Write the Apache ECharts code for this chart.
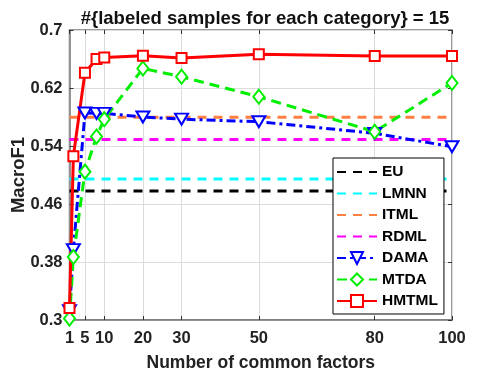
<!doctype html>
<html>
<head>
<meta charset="utf-8">
<title>MacroF1 vs common factors</title>
<script src="https://cdn.jsdelivr.net/npm/echarts@6/dist/echarts.min.js"></script>
<style>
    html, body { margin: 0; padding: 0; background: #fff; }
    #main { width: 499px; height: 380px; }
</style>
</head>
<body>
<div id="main"></div>
<script>
// data
var factors = [1, 2, 5, 8, 10, 20, 30, 50, 80, 100];
var xTicks = [1, 5, 10, 20, 30, 50, 80, 100];
var yTicks = [0.3, 0.38, 0.46, 0.54, 0.62, 0.7];

// baselines (constant over factors)
var euVal = 0.478;
var lmnnVal = 0.4945;
var itmlVal = 0.5796;
var rdmlVal = 0.549;

var dama  = [0.313, 0.397, 0.5855, 0.585, 0.585, 0.580, 0.577, 0.5735, 0.5575, 0.539];
var mtda  = [0.302, 0.387, 0.5046, 0.553, 0.577, 0.647, 0.6356, 0.608, 0.5597, 0.627];
var hmtml = [0.3166, 0.526, 0.641, 0.660, 0.662, 0.6645, 0.6614, 0.6665, 0.664, 0.664];

function pairs(ys) {
    return factors.map(function (x, i) { return [x, ys[i]]; });
}
function flat(v) {
    return [[factors[0], v], [factors[factors.length - 1], v]];
}

var FONT = 'Liberation Sans';
var AXC = '#7a7a7a';
var TXT = '#222';

var chart = echarts.init(document.getElementById('main'));

function baseline(name, v, color) {
    return {
        name: name,
        type: 'line',
        data: flat(v),
        symbol: 'none',
        lineStyle: { color: color, width: 3, type: [9, 7] },
        itemStyle: { color: color },
        silent: true
    };
}

// legend entries; baselines get no marker in the key
var names = ['EU', 'LMNN', 'ITML', 'RDML', 'DAMA', 'MTDA', 'HMTML'];
var legendData = names.map(function (n, i) {
    return i < 4 ? { name: n, itemStyle: { opacity: 0 } } : { name: n };
});

var option = {
    animation: false,
    backgroundColor: '#fff',
    title: {
        text: '#{labeled samples for each category} = 15',
        left: 260,
        top: 4,
        textAlign: 'center',
        textStyle: { fontFamily: FONT, fontSize: 18.5, fontWeight: 'bold', color: '#111' }
    },
    grid: {
        left: 69.5, right: 47, top: 30, bottom: 60,
        outerBoundsMode: 'none',
        containLabel: false,
        show: true, borderColor: AXC, borderWidth: 1.5, backgroundColor: '#fff'
    },
    legend: {
        orient: 'vertical',
        left: 333,
        top: 158,
        width: 107,
        padding: [6, 6, 5, 3],
        itemGap: 5.5,
        itemWidth: 40,
        itemHeight: 15,
        backgroundColor: '#fff',
        borderColor: '#000',
        borderWidth: 1,
        textStyle: { fontFamily: FONT, fontSize: 15.5, fontWeight: 'bold', color: '#000', padding: [0, 0, 0, 0] },
        data: legendData
    },
    xAxis: [{
        type: 'value',
        min: 1, max: 100,
        name: 'Number of common factors',
        nameLocation: 'middle',
        nameGap: 34,
        nameTextStyle: { fontFamily: FONT, fontSize: 17.5, fontWeight: 'bold', color: TXT },
        axisLine: { show: true, lineStyle: { color: AXC, width: 1.5 } },
        axisTick: { show: true, inside: true, length: 4, customValues: xTicks, lineStyle: { color: '#333' } },
        axisLabel: { customValues: xTicks, fontFamily: FONT, fontSize: 16.5, fontWeight: 'bold', color: TXT, margin: 10 },
        splitLine: { show: true, lineStyle: { color: '#dcdcdc', width: 1 } }
    }, {
        type: 'value',
        position: 'top',
        min: 1, max: 100,
        axisLine: { show: false },
        axisTick: { show: true, inside: true, length: 4, customValues: xTicks, lineStyle: { color: '#333' } },
        axisLabel: { show: false, customValues: xTicks },
        splitLine: { show: false }
    }],
    yAxis: [{
        type: 'value',
        min: 0.3, max: 0.7,
        name: 'MacroF1',
        nameLocation: 'middle',
        nameGap: 41,
        nameMoveOverlap: false,
        nameTextStyle: { fontFamily: FONT, fontSize: 18.5, fontWeight: 'bold', color: TXT },
        axisLine: { show: true, lineStyle: { color: AXC, width: 1.5 } },
        axisTick: { show: true, inside: true, length: 4, customValues: yTicks, lineStyle: { color: '#333' } },
        axisLabel: {
            customValues: yTicks, fontFamily: FONT, fontSize: 16.5, fontWeight: 'bold', color: TXT, margin: 7,
            formatter: function (v) { return String(+v.toFixed(2)); }
        },
        splitLine: { show: true, lineStyle: { color: '#dcdcdc', width: 1 } }
    }, {
        type: 'value',
        position: 'right',
        min: 0.3, max: 0.7,
        axisLine: { show: false },
        axisTick: { show: true, inside: true, length: 4, customValues: yTicks, lineStyle: { color: '#333' } },
        axisLabel: { show: false, customValues: yTicks },
        splitLine: { show: false }
    }],
    series: [
        baseline('EU', euVal, '#000000'),
        baseline('LMNN', lmnnVal, '#00ffff'),
        baseline('ITML', itmlVal, '#ff8040'),
        baseline('RDML', rdmlVal, '#ff00ff'),
        {
            name: 'DAMA',
            type: 'line',
            data: pairs(dama),
            symbol: 'triangle',
            symbolRotate: 180,
            symbolSize: [13, 11],
            showAllSymbol: true,
            lineStyle: { color: '#0000ff', width: 3, type: [9, 4, 3, 4] },
            itemStyle: { color: '#fff', borderColor: '#0000ff', borderWidth: 2 }
        },
        {
            name: 'MTDA',
            type: 'line',
            data: pairs(mtda),
            symbol: 'diamond',
            symbolSize: [11, 14],
            showAllSymbol: true,
            lineStyle: { color: '#00ee00', width: 3, type: [10, 6] },
            itemStyle: { color: '#fff', borderColor: '#00ee00', borderWidth: 2 }
        },
        {
            name: 'HMTML',
            type: 'line',
            data: pairs(hmtml),
            symbol: 'rect',
            symbolSize: 10,
            showAllSymbol: true,
            lineStyle: { color: '#ff0000', width: 3 },
            itemStyle: { color: '#fff', borderColor: '#ff0000', borderWidth: 2 }
        }
    ]
};

chart.setOption(option);
</script>
</body>
</html>
